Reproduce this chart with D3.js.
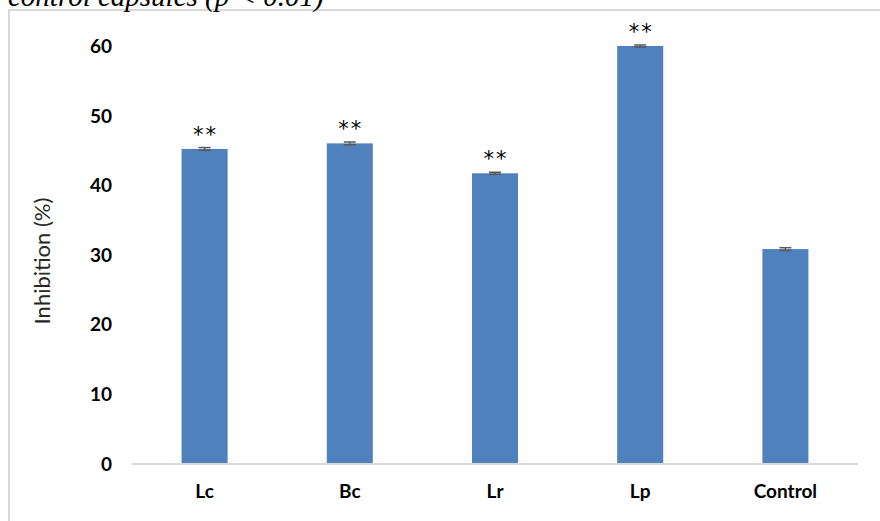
<!DOCTYPE html>
<html>
<head>
<meta charset="utf-8">
<script src="https://cdn.jsdelivr.net/npm/d3@7"></script>
<style>
	body { margin: 0; background: #fff; }
	svg { display: block; }
</style>
</head>
<body>
<svg id="chart"></svg>
<script>
// Chart data
const categories = ["Lc", "Bc", "Lr", "Lp", "Control"];
const inhibition = [45.3, 46.1, 41.8, 60.1, 30.9];
const errors = [0.2, 0.2, 0.15, 0.15, 0.2];
const marks = ["**", "**", "**", "**", ""];
const yTicks = [0, 10, 20, 30, 40, 50, 60];
const yLabel = "Inhibition (%)";
const caption = "control capsules (p < 0.01)";

const width = 880, height = 521;
const margin = { top: 46.7, right: 22, bottom: 57, left: 132 };

const svg = d3.select("#chart")
	.attr("width", width)
	.attr("height", height);

// Chart frame (only top and left edges are visible)
svg.append("path")
	.attr("d", "M9," + height + " V10 H" + width)
	.style("fill", "none")
	.style("stroke", "#d9d9d9")
	.style("stroke-width", "2px");

// Caption of the figure, cut by the top edge as in the source
svg.append("text")
	.attr("x", 8)
	.attr("y", 6)
	.style("font-family", "'Liberation Serif', serif")
	.style("font-style", "italic")
	.style("font-size", "29px")
	.style("fill", "#000")
	.text(caption);

const x = d3.scaleBand()
	.domain(categories)
	.range([margin.left, width - margin.right])
	.paddingInner(0.683)
	.paddingOuter(0.3415);

const y = d3.scaleLinear()
	.domain([0, 60])
	.range([height - margin.bottom, margin.top]);

// Bars
svg.selectAll(".bar")
	.data(inhibition)
	.enter()
	.append("rect")
	.attr("class", "bar")
	.attr("x", (d, i) => x(categories[i]))
	.attr("y", d => y(d))
	.attr("width", x.bandwidth())
	.attr("height", d => y(0) - y(d))
	.style("fill", "#4f81bd");

// Error bars
const errG = svg.append("g").attr("class", "err");
inhibition.forEach((d, i) => {
	const cx = x(categories[i]) + x.bandwidth() / 2;
	errG.append("line")
		.attr("x1", cx).attr("x2", cx)
		.attr("y1", y(d + errors[i])).attr("y2", y(d - errors[i]))
		.style("stroke", "#595959").style("stroke-width", "1.5px");
	[d + errors[i], d - errors[i]].forEach(v => {
		errG.append("line")
			.attr("x1", cx - 6).attr("x2", cx + 6)
			.attr("y1", y(v)).attr("y2", y(v))
			.style("stroke", "#595959").style("stroke-width", "1.5px");
	});
});

// Significance marks
svg.selectAll(".sig")
	.data(marks)
	.enter()
	.append("text")
	.attr("class", "sig")
	.attr("x", (d, i) => x(categories[i]) + x.bandwidth() / 2 + 1)
	.attr("y", (d, i) => y(inhibition[i]) - 7)
	.style("text-anchor", "middle")
	.style("font-family", "'DejaVu Sans', sans-serif")
	.style("font-size", "21px")
	.style("letter-spacing", "2px")
	.style("fill", "#000")
	.text(d => d);

// X axis line
svg.append("line")
	.attr("x1", margin.left).attr("x2", width - margin.right)
	.attr("y1", y(0)).attr("y2", y(0))
	.style("stroke", "#d9d9d9")
	.style("stroke-width", "2px");

// X labels
svg.selectAll(".xlabel")
	.data(categories)
	.enter()
	.append("text")
	.attr("class", "xlabel")
	.attr("x", d => x(d) + x.bandwidth() / 2)
	.attr("y", y(0) + 34)
	.style("text-anchor", "middle")
	.style("font-family", "Lato, sans-serif")
	.style("font-weight", "bold")
	.style("font-size", "19px")
	.style("fill", "#000")
	.text(d => d);

// Y tick labels
const yAxis = d3.axisLeft(y)
	.tickValues(yTicks)
	.tickSize(0)
	.tickPadding(0);

const yAxisLine = svg.append("g")
	.attr("class", "y-axis")
	.attr("transform", "translate(112,0)")
	.call(yAxis);

yAxisLine.select(".domain").remove();
yAxisLine.selectAll("text")
	.style("font-family", "Lato, sans-serif")
	.style("font-weight", "bold")
	.style("font-size", "19px")
	.style("fill", "#000");

// Y axis title
svg.append("text")
	.attr("transform", "translate(50,261) rotate(-90)")
	.style("text-anchor", "middle")
	.style("font-family", "Lato, sans-serif")
	.style("font-size", "22px")
	.style("fill", "#262626")
	.text(yLabel);
</script>
</body>
</html>
